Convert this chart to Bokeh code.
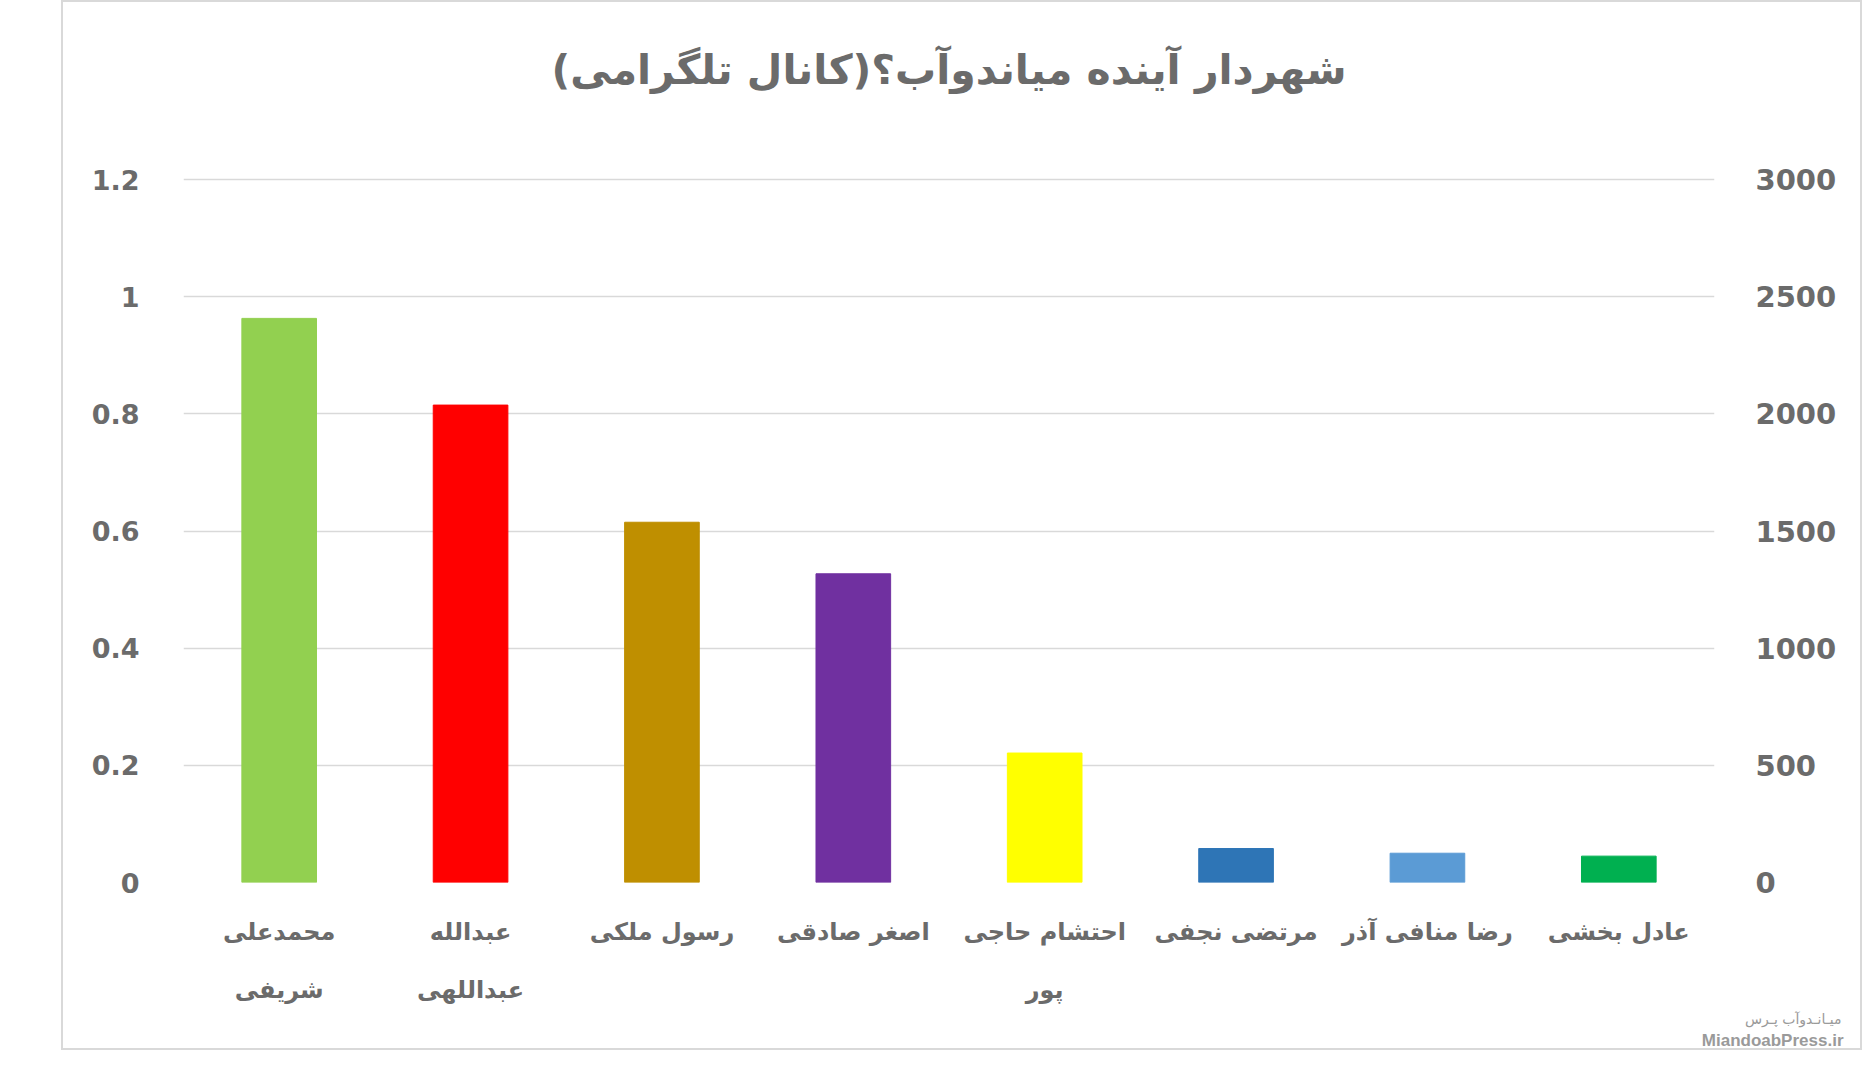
from bokeh.plotting import figure
from bokeh.models import (FactorRange, Range1d, LinearAxis, FixedTicker, Title,
                          Spacer, ColumnDataSource)
from bokeh.layouts import row
from bokeh.embed import file_html
from bokeh.resources import INLINE

# ---------------- data ----------------
title_text = "شهردار آینده میاندوآب؟(کانال تلگرامی)\u200f"
candidates = ["محمدعلی\nشریفی", "عبدالله\nعبداللهی", "رسول ملکی", "اصغر صادقی",
              "احتشام حاجی\nپور", "مرتضی نجفی", "رضا منافی آذر", "عادل بخشی"]
shares = [0.963, 0.815, 0.615, 0.527, 0.221, 0.058, 0.050, 0.045]
bar_colors = ["#92D050", "#FF0000", "#BF8F00", "#7030A0",
              "#FFFF00", "#2E75B6", "#5B9BD5", "#00B050"]
left_ticks = [0, 0.2, 0.4, 0.6, 0.8, 1.0, 1.2]
left_tick_labels = ["0", "0.2", "0.4", "0.6", "0.8", "1", "1.2"]
right_ticks = [0, 500, 1000, 1500, 2000, 2500, 3000]
right_tick_labels = ["0", "500", "1000", "1500", "2000", "2500", "3000"]
watermark_fa = "میـانـدوآب پـرس"
watermark_en = "MiandoabPress.ir"

FONT = "DejaVu Sans"
TXT = "#6b6b6b"
GRID = "#d9d9d9"
WM = "#9a9a9a"

source = ColumnDataSource(dict(cat=candidates, val=shares, color=bar_colors))

Y_END = 1.2035
p = figure(x_range=FactorRange(*candidates), y_range=Range1d(0, Y_END),
           width=1801, height=1050, output_backend="svg", toolbar_location=None,
           min_border_left=120, min_border_right=150,
           min_border_top=175, min_border_bottom=170)
p.outline_line_color = None
p.background_fill_color = "white"
p.border_fill_color = "white"
p.styles = {"border": "2px solid #d9d9d9", "box-sizing": "border-box"}

p.vbar(x="cat", top="val", width=0.39, color="color", source=source)

# grid
p.xgrid.grid_line_color = None
p.ygrid.grid_line_color = GRID
p.ygrid.grid_line_width = 1.6
p.ygrid.ticker = FixedTicker(ticks=left_ticks)

# left axis
ya = p.yaxis[0]
ya.ticker = FixedTicker(ticks=left_ticks)
ya.major_label_overrides = {t: l for t, l in zip(left_ticks, left_tick_labels)}
ya.axis_line_color = None
ya.major_tick_line_color = None
ya.minor_tick_line_color = None
ya.major_label_standoff = 38
ya.major_label_text_font = FONT
ya.major_label_text_font_style = "bold"
ya.major_label_text_font_size = "27px"
ya.major_label_text_color = TXT
ya.major_label_text_baseline = "alphabetic"

# right axis
p.extra_y_ranges = {"right": Range1d(0, 3000 * Y_END / 1.2)}
ra = LinearAxis(y_range_name="right", ticker=FixedTicker(ticks=right_ticks))
ra.major_label_overrides = {t: l for t, l in zip(right_ticks, right_tick_labels)}
ra.axis_line_color = None
ra.major_tick_line_color = None
ra.minor_tick_line_color = None
ra.major_label_standoff = 35
ra.major_label_text_font = FONT
ra.major_label_text_font_style = "bold"
ra.major_label_text_font_size = "29px"
ra.major_label_text_color = TXT
ra.major_label_text_baseline = "alphabetic"
p.add_layout(ra, "right")

# x axis
xa = p.xaxis[0]
xa.axis_line_color = None
xa.major_tick_line_color = None
xa.minor_tick_line_color = None
xa.major_label_standoff = 29
xa.major_label_text_font = FONT
xa.major_label_text_font_style = "bold"
xa.major_label_text_font_size = "24px"
xa.major_label_text_color = TXT
xa.major_label_text_line_height = 2.1

# spacer title (closest to the frame) and the real title above it
gap = Title(text=" ", text_font_size="10px", standoff=66)
p.add_layout(gap, "above")
t = Title(text=title_text, align="center", text_font=FONT, text_font_style="bold",
          text_font_size="41px", text_color=TXT, standoff=10)
p.add_layout(t, "above")

# watermark (below the category labels, right side)
wm1 = Title(text=watermark_fa, align="right", offset=-127, text_font=FONT,
            text_font_style="normal", text_font_size="14px", text_color=WM, standoff=3)
wm2 = Title(text=watermark_en, align="right", offset=-129, text_font="Liberation Sans",
            text_font_style="bold", text_font_size="17px", text_color=WM, standoff=0)
p.add_layout(wm1, "below")
p.add_layout(wm2, "below")

layout = row(Spacer(width=61, height=10), p)
open("out.html", "w").write(file_html(layout, INLINE))
